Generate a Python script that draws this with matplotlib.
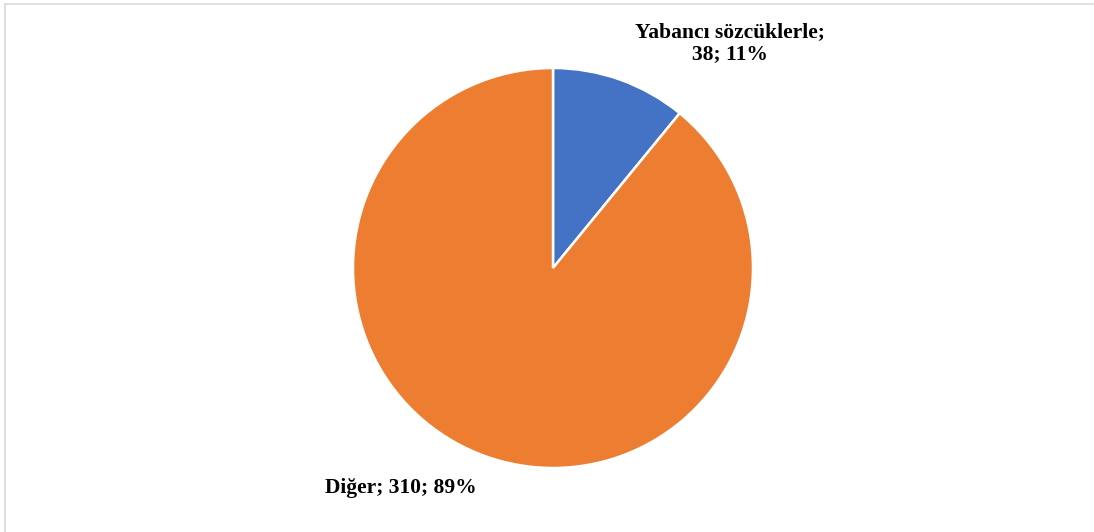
import matplotlib
matplotlib.use("Agg")
import matplotlib.pyplot as plt
from matplotlib.lines import Line2D

# word counts by category
categories = ["Yabancı sözcüklerle", "Diğer"]
counts = [38, 310]
colors = ["#4472C4", "#ED7D31"]

W, H = 1094, 532
fig = plt.figure(figsize=(W / 100, H / 100), dpi=100)

# pie area: centre (553, 268) px, radius 200 px
cx, cy, r = 553, 268, 200
ax = fig.add_axes([(cx - r) / W, (H - cy - r) / H, 2 * r / W, 2 * r / H])
ax.pie(
    counts,
    colors=colors,
    startangle=90,
    counterclock=False,
    radius=1.0,
    wedgeprops=dict(edgecolor="white", linewidth=1.8),
)
ax.set_xlim(-1, 1)
ax.set_ylim(-1, 1)
ax.set_aspect("equal")
ax.axis("off")

total = sum(counts)
pcts = [round(100 * c / total) for c in counts]
font = dict(family="Liberation Serif", fontweight="bold", fontsize=15.5, color="black")

# labels: category; value; percent
fig.text(730 / W, 1 - 43 / H, f"{categories[0]};\n{counts[0]}; {pcts[0]}%",
         ha="center", va="center", linespacing=1.15, **font)
fig.text(401 / W, 1 - 488 / H, f"{categories[1]}; {counts[1]}; {pcts[1]}%",
         ha="center", va="center", **font)

# chart frame (top and left edges)
frame = "#D9D9D9"
fig.add_artist(Line2D([5 / W, 1], [1 - 4 / H, 1 - 4 / H], color=frame, lw=1.2,
                      transform=fig.transFigure))
fig.add_artist(Line2D([5 / W, 5 / W], [0, 1 - 4 / H], color=frame, lw=1.2,
                      transform=fig.transFigure))

fig.savefig("out.png", dpi=100, facecolor="white")
